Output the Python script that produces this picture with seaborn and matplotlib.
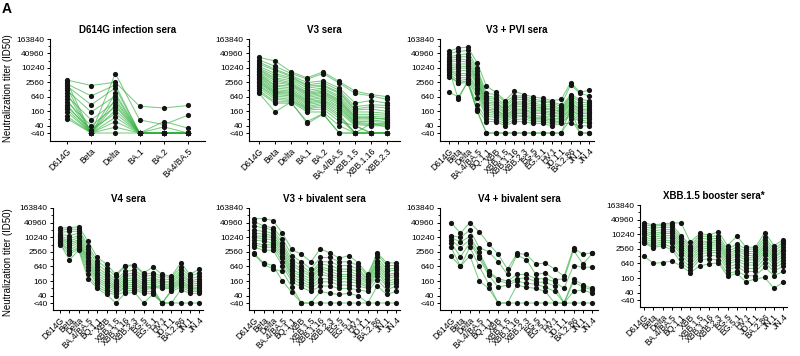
import matplotlib
matplotlib.use("Agg")
import matplotlib.pyplot as plt
from matplotlib.ticker import FixedLocator, NullFormatter
import pandas as pd
import seaborn as sns

# variant panels (x categories)
VARIANTS_D614G = ["D614G", "Beta", "Delta", "BA.1", "BA.2", "BA4/BA.5"]
VARIANTS_V3 = ["D614G", "Beta", "Delta", "BA.1", "BA.2", "BA.4/BA.5",
               "XBB.1.5", "XBB.1.16", "XBB.2.3"]
VARIANTS_LONG = ["D614G", "Beta", "Delta", "BA.4/BA.5", "BQ.1.1", "XBB",
                 "XBB.1.5", "XBB.1.16", "XBB.2.3", "EG.5", "EG.5.1", "HV.1",
                 "JD.1.1", "BA.2.86", "JN.1", "JN.4"]

Y_TICKS = [20, 40, 160, 640, 2560, 10240, 40960, 163840]
Y_LABELS = ["<40", "40", "160", "640", "2560", "10240", "40960", "163840"]
Y_MINOR = [80, 320, 1280, 5120, 20480, 81920]

# one row per serum sample, titers (<40 drawn at 20)
D614G_SERA = [
    [3200, 1900, 2600, 260, 220, 280],
    [2600, 20, 6000, 70, 45, 110],
    [2200, 700, 2000, 20, 60, 32],
    [1800, 300, 1500, 20, 36, 20],
    [1500, 20, 900, 20, 20, 20],
    [1200, 150, 700, 20, 20, 20],
    [900, 20, 500, 20, 20, 20],
    [700, 70, 400, 20, 20, 20],
    [500, 20, 300, 20, 20, 20],
    [400, 40, 250, 20, 20, 20],
    [300, 20, 180, 20, 20, 20],
    [250, 28, 130, 20, 20, 20],
    [200, 20, 90, 20, 20, 20],
    [150, 20, 60, 20, 20, 20],
    [100, 20, 35, 20, 20, 20],
    [80, 20, 20, 20, 20, 20],
]

V3_SERA = [
    [28000, 20000, 7000, 4000, 7000, 2800, 1100, 800, 650],
    [22000, 12000, 6000, 3500, 6000, 2400, 900, 700, 500],
    [18000, 9000, 5000, 2500, 3000, 1500, 350, 450, 350],
    [15000, 8000, 4500, 2000, 2500, 1200, 250, 300, 280],
    [12000, 6000, 4000, 1800, 2000, 1000, 200, 250, 220],
    [10000, 5000, 3500, 1500, 1800, 900, 180, 200, 160],
    [9000, 4000, 3000, 1200, 1500, 700, 150, 150, 130],
    [8000, 3500, 2500, 1000, 1300, 600, 120, 120, 110],
    [7000, 3000, 2200, 900, 1100, 500, 100, 100, 90],
    [6000, 2500, 2000, 800, 1000, 450, 90, 80, 80],
    [5500, 2000, 1800, 700, 900, 400, 80, 90, 70],
    [5000, 1800, 1500, 600, 800, 350, 70, 70, 60],
    [4500, 1500, 1300, 500, 700, 300, 60, 60, 55],
    [4000, 1300, 1100, 450, 600, 250, 55, 50, 50],
    [3500, 1100, 1000, 400, 500, 220, 50, 45, 45],
    [3000, 1000, 900, 350, 450, 180, 45, 40, 40],
    [2700, 900, 800, 300, 400, 150, 40, 20, 20],
    [2400, 800, 700, 250, 350, 120, 20, 20, 20],
    [2000, 700, 600, 220, 300, 100, 20, 20, 20],
    [1800, 600, 500, 200, 250, 80, 20, 50, 35],
    [1500, 500, 450, 180, 200, 60, 40, 20, 20],
    [1200, 400, 400, 150, 150, 40, 20, 20, 20],
    [1000, 350, 350, 60, 130, 20, 20, 20, 20],
    [900, 150, 400, 50, 120, 20, 20, 20, 20],
]

V3_PVI_SERA = [
    [50000, 70000, 75000, 17000, 1800, 1000, 450, 1100, 800, 640, 550, 450, 500, 2500, 1000, 1200],
    [40000, 50000, 55000, 10000, 900, 800, 400, 700, 700, 500, 450, 400, 300, 2000, 900, 700],
    [30000, 35000, 40000, 8000, 700, 600, 300, 600, 600, 400, 400, 350, 250, 800, 500, 450],
    [25000, 30000, 30000, 6000, 600, 500, 250, 500, 500, 350, 300, 300, 200, 700, 400, 350],
    [20000, 25000, 22000, 5000, 500, 400, 200, 400, 400, 300, 250, 250, 180, 600, 300, 300],
    [18000, 20000, 18000, 4000, 400, 350, 180, 350, 350, 250, 220, 200, 160, 500, 250, 250],
    [15000, 15000, 15000, 3500, 350, 300, 150, 300, 300, 200, 200, 180, 150, 400, 200, 200],
    [13000, 12000, 12000, 3000, 300, 250, 130, 250, 250, 180, 170, 150, 130, 350, 180, 180],
    [11000, 10000, 10000, 2500, 250, 200, 110, 200, 200, 150, 150, 130, 120, 300, 150, 150],
    [10000, 8000, 8000, 2000, 200, 180, 100, 180, 180, 130, 130, 110, 100, 250, 130, 130],
    [9000, 6000, 6000, 1500, 180, 150, 90, 150, 150, 110, 100, 100, 90, 200, 110, 110],
    [8000, 5000, 5000, 1200, 150, 130, 80, 130, 130, 90, 90, 80, 80, 180, 100, 90],
    [7000, 4000, 4000, 900, 120, 110, 70, 110, 110, 80, 80, 70, 70, 150, 80, 80],
    [6000, 3000, 3500, 600, 100, 90, 60, 90, 100, 70, 70, 60, 60, 120, 70, 60],
    [5000, 2500, 3000, 300, 80, 70, 50, 70, 80, 60, 60, 50, 55, 100, 60, 50],
    [4500, 2400, 2500, 200, 60, 60, 40, 60, 60, 50, 50, 40, 50, 50, 40, 40],
    [1000, 640, 2500, 180, 20, 20, 20, 20, 20, 20, 20, 20, 20, 200, 20, 20],
    [9000, 500, 3000, 160, 20, 20, 20, 20, 20, 20, 20, 20, 20, 80, 20, 20],
]

V4_SERA = [
    [25000, 25000, 28000, 7000, 1500, 800, 300, 700, 750, 350, 600, 300, 250, 900, 300, 500],
    [20000, 22000, 22000, 4500, 1100, 550, 250, 650, 700, 300, 350, 250, 220, 600, 250, 350],
    [16000, 18000, 18000, 3500, 800, 400, 180, 400, 450, 250, 280, 200, 180, 450, 200, 250],
    [13000, 12000, 15000, 2500, 600, 300, 150, 300, 350, 200, 220, 160, 150, 350, 160, 200],
    [11000, 9000, 12000, 2000, 450, 250, 120, 250, 280, 160, 180, 140, 130, 280, 140, 160],
    [10000, 7000, 10000, 1500, 350, 200, 100, 200, 220, 130, 150, 120, 110, 220, 120, 130],
    [9000, 6000, 8000, 1200, 280, 160, 90, 160, 180, 110, 120, 100, 100, 180, 100, 110],
    [8000, 5000, 7000, 1000, 220, 130, 80, 130, 150, 90, 100, 90, 90, 150, 90, 90],
    [7000, 4000, 6000, 800, 180, 110, 70, 110, 120, 80, 90, 80, 80, 130, 80, 80],
    [6500, 3000, 5000, 600, 150, 90, 60, 90, 100, 70, 80, 20, 70, 110, 70, 70],
    [6000, 2500, 4000, 450, 120, 70, 50, 80, 80, 60, 60, 20, 60, 90, 60, 60],
    [5000, 2000, 3500, 300, 90, 60, 40, 60, 70, 50, 50, 20, 20, 70, 50, 50],
    [5500, 1200, 3000, 200, 80, 45, 20, 50, 55, 20, 45, 20, 20, 20, 20, 20],
]

V3_BIVALENT_SERA = [
    [60000, 60000, 50000, 15000, 3200, 2000, 1000, 3400, 2300, 1400, 1800, 900, 300, 2300, 900, 900],
    [45000, 30000, 25000, 9000, 1800, 1000, 500, 1500, 1500, 1000, 1000, 700, 250, 2000, 700, 700],
    [30000, 25000, 20000, 6000, 1200, 700, 350, 1000, 1000, 700, 700, 500, 200, 1500, 500, 550],
    [20000, 18000, 15000, 4500, 900, 500, 300, 800, 700, 500, 500, 400, 180, 1100, 400, 450],
    [15000, 14000, 12000, 3500, 700, 400, 250, 600, 500, 400, 400, 300, 160, 900, 300, 350],
    [12000, 11000, 10000, 2800, 500, 300, 200, 500, 400, 300, 300, 250, 140, 700, 250, 300],
    [10000, 9000, 8000, 2200, 400, 250, 150, 400, 300, 250, 250, 200, 120, 550, 200, 250],
    [8000, 7000, 6000, 1800, 300, 200, 120, 300, 250, 200, 200, 160, 100, 450, 150, 200],
    [6000, 5000, 5000, 1400, 250, 150, 100, 200, 200, 150, 150, 130, 90, 350, 120, 160],
    [5000, 4000, 4000, 1000, 200, 120, 80, 150, 150, 110, 110, 100, 80, 250, 100, 130],
    [4000, 3000, 3000, 700, 150, 90, 60, 100, 100, 80, 80, 70, 60, 180, 70, 100],
    [2200, 900, 700, 160, 55, 20, 20, 60, 50, 45, 50, 40, 20, 100, 45, 60],
    [2000, 800, 500, 400, 90, 20, 20, 20, 20, 20, 20, 20, 20, 20, 20, 20],
]

V4_BIVALENT_SERA = [
    [41000, 15000, 41000, 17000, 5500, 2000, 500, 2200, 2000, 800, 900, 500, 250, 3800, 2000, 2400],
    [12000, 10000, 20000, 3800, 2600, 1000, 300, 1900, 1200, 300, 350, 180, 200, 3000, 800, 2200],
    [10000, 6500, 11000, 2500, 400, 200, 160, 300, 300, 200, 200, 150, 80, 700, 600, 600],
    [8000, 3800, 8000, 1800, 350, 170, 130, 200, 220, 150, 140, 100, 20, 200, 110, 80],
    [6000, 1600, 6000, 1400, 280, 90, 110, 160, 130, 120, 90, 60, 20, 150, 90, 70],
    [4000, 640, 4000, 640, 120, 20, 20, 110, 90, 80, 60, 20, 20, 60, 70, 50],
    [1700, 640, 1800, 160, 80, 20, 20, 20, 20, 20, 20, 20, 20, 20, 20, 20],
]

XBB15_BOOSTER_SERA = [
    [30000, 25000, 27000, 30000, 30000, 4800, 11000, 9500, 13000, 3500, 8500, 3000, 3000, 12000, 3500, 6000],
    [25000, 22000, 24000, 25000, 9000, 3500, 9000, 8000, 9000, 2500, 4000, 2500, 2500, 8000, 2500, 5000],
    [20000, 18000, 20000, 20000, 7000, 3000, 7000, 6500, 7000, 2000, 3000, 2000, 2000, 6000, 2000, 4000],
    [17000, 14000, 16000, 16000, 5500, 2500, 5500, 5000, 6000, 1600, 2400, 1700, 1600, 4500, 1600, 3000],
    [14000, 11000, 13000, 13000, 4500, 2000, 4500, 4500, 5000, 1300, 2000, 1400, 1300, 3500, 1300, 2400],
    [12000, 9000, 11000, 11000, 3500, 1600, 3800, 3800, 4200, 1100, 1600, 1100, 1100, 2800, 1100, 2000],
    [10000, 7500, 9000, 9000, 2800, 1300, 3000, 3200, 3500, 900, 1300, 900, 900, 2200, 900, 1500],
    [8000, 6000, 7500, 7000, 2300, 1000, 2500, 2700, 2800, 750, 1000, 700, 700, 1800, 700, 1200],
    [6500, 5000, 6000, 5500, 1800, 800, 2000, 2200, 2200, 600, 800, 550, 550, 1400, 550, 900],
    [5500, 4000, 5000, 4500, 1400, 600, 1600, 1800, 1800, 450, 600, 400, 400, 1000, 400, 700],
    [5000, 3200, 4200, 3000, 1000, 450, 1200, 1400, 1300, 350, 450, 300, 300, 700, 300, 500],
    [4500, 2800, 3500, 2300, 700, 350, 900, 1000, 900, 250, 300, 200, 200, 450, 200, 300],
    [1300, 650, 700, 800, 500, 270, 520, 600, 700, 190, 250, 110, 150, 170, 60, 110],
]

GREEN = "#34b040"
DOT = "#141414"
W, H = 800, 356

# title, variants, data, axes box in pixels (left, top, right, bottom), xlim, y bottom
PANELS = [
    ("D614G infection sera", VARIANTS_D614G, D614G_SERA, (50, 39, 205, 141), (-0.70, 5.7), 9.3),
    ("V3 sera", VARIANTS_V3, V3_SERA, (249, 39, 400, 141), (-0.63, 8.8), 9.3),
    ("V3 + PVI sera", VARIANTS_LONG, V3_PVI_SERA, (440, 39, 594, 141), (-0.96, 15.5), 9.3),
    ("V4 sera", VARIANTS_LONG, V4_SERA, (53, 208, 203, 310), (-0.77, 15.4), 10.3),
    ("V3 + bivalent sera", VARIANTS_LONG, V3_BIVALENT_SERA, (249, 208, 400, 310), (-0.53, 15.4), 10.3),
    ("V4 + bivalent sera", VARIANTS_LONG, V4_BIVALENT_SERA, (440, 208, 598, 310), (-1.17, 15.6), 10.3),
    ("XBB.1.5 booster sera*", VARIANTS_LONG, XBB15_BOOSTER_SERA, (640, 205, 787, 307), (-0.43, 15.4), 10.3),
]


def to_long(data, variants):
    rows = []
    for subj, values in enumerate(data):
        for pos, titer in enumerate(values):
            rows.append({"subject": subj, "pos": pos, "variant": variants[pos], "titer": titer})
    return pd.DataFrame(rows)


sns.set_theme(style="ticks")
plt.rcParams["font.family"] = ["Liberation Sans", "DejaVu Sans"]
plt.rcParams["text.color"] = "black"
plt.rcParams["xtick.color"] = "black"
plt.rcParams["ytick.color"] = "black"
plt.rcParams["axes.edgecolor"] = "black"

fig = plt.figure(figsize=(W / 100, H / 100), dpi=100)

for title, variants, data, (l, t, r, b), xlim, ybot in PANELS:
    ax = fig.add_axes([l / W, 1 - b / H, (r - l) / W, (b - t) / H])
    df = to_long(data, variants)
    sns.lineplot(data=df, x="pos", y="titer", units="subject", estimator=None,
                 color=GREEN, lw=0.75, alpha=0.65, ax=ax, legend=False)
    sns.scatterplot(data=df, x="pos", y="titer", color=DOT, s=14, linewidth=0,
                    ax=ax, zorder=3, legend=False)
    ax.set_yscale("log", base=2)
    ax.set_yticks(Y_TICKS)
    ax.set_yticklabels(Y_LABELS)
    ax.yaxis.set_minor_locator(FixedLocator(Y_MINOR))
    ax.yaxis.set_minor_formatter(NullFormatter())
    ax.set_ylim(ybot, 163840)
    ax.set_xticks(range(len(variants)))
    ax.set_xticklabels(variants, rotation=45, ha="right", rotation_mode="anchor")
    ax.set_xlim(*xlim)
    ax.set_xlabel("")
    ax.set_ylabel("")
    ax.set_title(title, fontsize=7, fontweight="bold", pad=4)
    ax.tick_params(axis="both", which="major", labelsize=6.2, length=2.5, width=0.7, pad=1.5)
    ax.tick_params(axis="y", which="major", labelsize=6.0)
    ax.tick_params(axis="y", which="minor", length=1.5, width=0.6)
    for side in ("left", "bottom"):
        ax.spines[side].set_linewidth(0.8)
    sns.despine(ax=ax)

fig.text(8 / W, 1 - 88 / H, "Neutralization titer (ID50)", rotation=90,
         ha="center", va="center", fontsize=7)
fig.text(8 / W, 1 - 262 / H, "Neutralization titer (ID50)", rotation=90,
         ha="center", va="center", fontsize=7)
fig.text(2 / W, 1 - 2 / H, "A", ha="left", va="top", fontsize=10, fontweight="bold")

fig.savefig("out.png", dpi=100)
